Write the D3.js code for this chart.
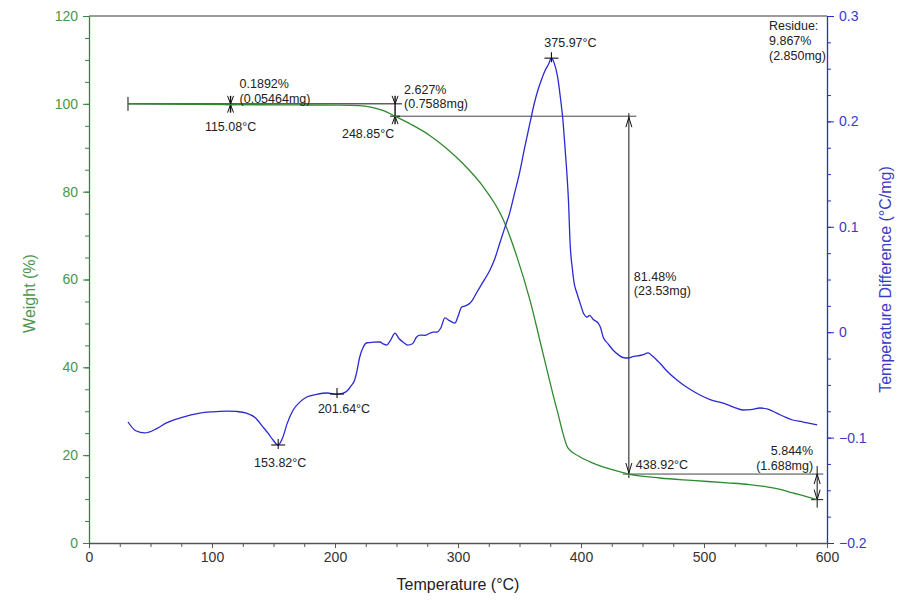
<!DOCTYPE html>
<html><head><meta charset="utf-8">
<script src="https://cdn.jsdelivr.net/npm/d3@7"></script>
<style>
html,body{margin:0;padding:0;background:#fff;}
svg{display:block;font-family:"Liberation Sans",Arial,sans-serif;}
</style></head>
<body><svg id="c" width="910" height="603"></svg>
<script>
// ---- data ----
const tempW  = [31.7, 80, 115.08, 170, 200, 220, 230, 240, 248.85, 262, 277, 290, 304, 320, 337, 348, 358.5, 369, 380.5, 389.5, 398, 409.8, 424, 438.92, 464, 490, 519, 537, 551, 562, 572, 582, 592];
const weight = [100, 99.9, 99.81, 99.75, 99.7, 99.6, 99.2, 98.4, 97.18, 95.3, 92.8, 90.0, 86.4, 81.3, 73.5, 65.1, 55.3, 43.3, 30.3, 21.6, 19.8, 18.2, 16.8, 15.70, 14.8, 14.25, 13.7, 13.3, 12.8, 12.2, 11.4, 10.7, 9.867];

const tempD = [31.7, 38, 45.5, 55, 63, 75, 90, 100, 112, 120, 128, 135, 141.5, 146, 149.6, 153.82, 157.7, 161, 166, 171, 177, 185, 193.5, 201.64, 206, 210.6, 213, 216, 218, 220, 223, 226, 231, 236.6, 239, 242, 245, 248.8, 252, 256, 259, 263, 266, 269, 273, 277, 280, 283, 286, 289.4, 293, 297.5, 300, 303, 306, 309.8, 312, 315, 320, 326, 330, 334, 338, 342, 346, 350, 354, 358.5, 362, 365, 368, 371, 373.5, 375.97, 378, 381, 383, 385.5, 387, 388.5, 390, 391, 393, 394.5, 396.7, 400, 402, 405, 407, 410, 414, 416, 418, 422, 426, 431, 434, 438.5, 442, 446, 450, 454.5, 458, 464, 470, 478, 487, 496.7, 505, 515.5, 524, 531.7, 538, 545.5, 552, 559, 565, 572, 580, 586, 592];
const dta = [-0.0852, -0.0935, -0.0956, -0.0915, -0.0861, -0.0810, -0.0767, -0.0755, -0.0748, -0.0752, -0.0767, -0.0810, -0.0900, -0.0965, -0.1023, -0.1070, -0.0994, -0.0870, -0.0738, -0.0668, -0.0615, -0.0590, -0.0577, -0.0587, -0.0580, -0.0548, -0.0510, -0.0453, -0.0360, -0.0240, -0.0140, -0.0100, -0.0095, -0.0093, -0.0110, -0.0122, -0.0080, -0.0008, -0.0060, -0.0100, -0.0122, -0.0110, -0.0050, -0.0027, -0.0030, -0.0010, 0.0000, 0.0002, 0.0040, 0.0135, 0.0110, 0.0087, 0.0150, 0.0239, 0.0250, 0.0277, 0.0310, 0.0372, 0.0470, 0.0590, 0.0700, 0.0846, 0.0990, 0.1130, 0.1320, 0.1510, 0.1740, 0.1985, 0.2170, 0.2298, 0.2400, 0.2488, 0.2540, 0.2600, 0.2560, 0.2420, 0.2250, 0.1985, 0.1750, 0.1510, 0.1200, 0.0875, 0.0600, 0.0460, 0.0370, 0.0250, 0.0180, 0.0144, 0.0160, 0.0120, 0.0087, 0.0040, -0.0046, -0.0110, -0.0169, -0.0220, -0.0240, -0.0245, -0.0232, -0.0225, -0.0216, -0.0197, -0.0225, -0.0292, -0.0370, -0.0453, -0.0530, -0.0596, -0.0640, -0.0672, -0.0710, -0.0738, -0.0735, -0.0719, -0.0730, -0.0767, -0.0800, -0.0833, -0.0850, -0.0865, -0.0880];

const weightTicks = [0, 20, 40, 60, 80, 100, 120];
const dtaTicks = [-0.2, -0.1, 0, 0.1, 0.2, 0.3];
const tempTicks = [0, 100, 200, 300, 400, 500, 600];

// annotation values
const stepTemps = [115.08, 248.85, 438.92];
const stepLabels = [["0.1892%", "(0.05464mg)"], ["2.627%", "(0.7588mg)"], ["81.48%", "(23.53mg)"], ["5.844%", "(1.688mg)"]];
const peakTemps = [153.82, 201.64, 375.97];
const peakVals = [-0.1070, -0.0587, 0.2600];
const residue = ["Residue:", "9.867%", "(2.850mg)"];
const levels = [100, 97.18, 15.70, 9.867];

// ---- chart ----
const svg = d3.select("#c");
const L = 89, R = 827, T = 16, B = 543;
const x = d3.scaleLinear().domain([0, 600]).range([L, R]);
const yW = d3.scaleLinear().domain([0, 120]).range([B, T]);
const yD = d3.scaleLinear().domain([-0.2, 0.3]).range([B, T]);

const gColor = "#2f8a2f", gText = "#4d944d", bColor = "#2a2ad2", bText = "#3a3ac8";

// top frame line
svg.append("line").attr("x1", L).attr("x2", R).attr("y1", T).attr("y2", T).attr("stroke", "#7a7a7a").attr("stroke-width", 1.5);

function styleAxis(g, col, txt) {
  g.selectAll("path").attr("stroke", col).attr("stroke-width", 1.3);
  g.selectAll("line").attr("stroke", col);
  g.selectAll("text").attr("fill", txt).style("font-size", "14px").style("font-family", "Liberation Sans, Arial, sans-serif");
}

// minor ticks
svg.append("g").attr("transform", `translate(${L},0)`).call(d3.axisLeft(yW).tickValues(d3.range(0, 121, 5)).tickSize(4).tickFormat(""))
  .call(g => { g.select("path").remove(); g.selectAll("line").attr("stroke", gColor); });
svg.append("g").attr("transform", `translate(${R},0)`).call(d3.axisRight(yD).tickValues(d3.range(-8, 13).map(d => d * 0.025)).tickSize(4).tickFormat(""))
  .call(g => { g.select("path").remove(); g.selectAll("line").attr("stroke", bColor); });
svg.append("g").attr("transform", `translate(0,${B})`).call(d3.axisBottom(x).tickValues(d3.range(0, 601, 25)).tickSize(4).tickFormat(""))
  .call(g => { g.select("path").remove(); g.selectAll("line").attr("stroke", "#555"); });

// major axes
svg.append("g").attr("transform", `translate(${L},0)`)
  .call(d3.axisLeft(yW).tickValues(weightTicks).tickSize(6).tickSizeOuter(0).tickPadding(5).tickFormat(d3.format("d")))
  .call(g => styleAxis(g, gColor, gText));
svg.append("g").attr("transform", `translate(${R},0)`)
  .call(d3.axisRight(yD).tickValues(dtaTicks).tickSize(7).tickSizeOuter(0).tickPadding(5).tickFormat(d => d3.format("")(+d.toFixed(1))))
  .call(g => styleAxis(g, bColor, bText));
svg.append("g").attr("transform", `translate(0,${B})`)
  .call(d3.axisBottom(x).tickValues(tempTicks).tickSize(5).tickSizeOuter(0).tickPadding(4))
  .call(g => styleAxis(g, "#555", "#333"));

// axis titles
svg.append("text").attr("x", (L + R) / 2).attr("y", 590).attr("text-anchor", "middle").attr("fill", "#222").style("font-size", "16px").text("Temperature (°C)");
svg.append("text").attr("transform", `translate(35,${(T + B) / 2 + 14}) rotate(-90)`).attr("text-anchor", "middle").attr("fill", gText).style("font-size", "16px").text("Weight (%)");
svg.append("text").attr("transform", `translate(891,${(T + B) / 2}) rotate(-90)`).attr("text-anchor", "middle").attr("fill", bText).style("font-size", "16px").text("Temperature Difference (°C/mg)");

// curves
const lineW = d3.line().x((d, i) => x(tempW[i])).y(d => yW(d)).curve(d3.curveMonotoneX);
const lineD = d3.line().x((d, i) => x(tempD[i])).y(d => yD(d)).curve(d3.curveMonotoneX);

// annotation lines
const ann = svg.append("g").attr("stroke", "#111").attr("stroke-width", 1).attr("fill", "none");
ann.append("line").attr("x1", x(31.7)).attr("x2", x(stepTemps[1]) + 7).attr("y1", yW(levels[0])).attr("y2", yW(levels[0]));
ann.append("line").attr("x1", x(31.7)).attr("x2", x(31.7)).attr("y1", yW(levels[0]) - 7).attr("y2", yW(levels[0]) + 7);
ann.append("line").attr("x1", x(stepTemps[1])).attr("x2", x(445)).attr("y1", yW(levels[1])).attr("y2", yW(levels[1])).attr("stroke", "#444");
ann.append("line").attr("x1", x(stepTemps[2]) - 6).attr("x2", x(597)).attr("y1", yW(levels[2])).attr("y2", yW(levels[2])).attr("stroke", "#444");
ann.append("line").attr("x1", x(stepTemps[2])).attr("x2", x(stepTemps[2])).attr("y1", yW(levels[1]) - 3).attr("y2", yW(levels[2]) + 4);
function arrowUp(px, py) { ann.append("path").attr("d", `M${px - 3},${py + 10}L${px},${py}L${px + 3},${py + 10}`); }
function arrowDown(px, py) { ann.append("path").attr("d", `M${px - 3},${py - 10}L${px},${py}L${px + 3},${py - 10}`); }
arrowUp(x(stepTemps[2]), yW(levels[1]) + 1);
arrowDown(x(stepTemps[2]), yW(levels[2]) - 1);
[[stepTemps[0], levels[0], 99.81], [stepTemps[1], levels[0], levels[1]]].forEach(([t, a, b]) => {
  const px = x(t), ya = yW(a), yb = yW(b);
  ann.append("line").attr("x1", px).attr("x2", px).attr("y1", ya - 8).attr("y2", yb + 8).attr("stroke-width", 1.4);
  ann.append("path").attr("d", `M${px - 3},${ya - 8}L${px},${ya}L${px + 3},${ya - 8}`);
  ann.append("path").attr("d", `M${px - 3},${yb + 8}L${px},${yb}L${px + 3},${yb + 8}`);
  ann.append("line").attr("x1", px - 5).attr("x2", px + 5).attr("y1", yb).attr("y2", yb);
});
{
  const px = x(592), ya = yW(levels[2]), yb = yW(levels[3]);
  ann.append("line").attr("x1", px).attr("x2", px).attr("y1", ya - 8).attr("y2", yb + 8);
  ann.append("path").attr("d", `M${px - 3},${ya + 10}L${px},${ya}L${px + 3},${ya + 10}`);
  ann.append("path").attr("d", `M${px - 3},${yb - 10}L${px},${yb}L${px + 3},${yb - 10}`);
  ann.append("line").attr("x1", px - 6).attr("x2", px + 6).attr("y1", yb).attr("y2", yb);
}

svg.append("path").attr("d", lineW(weight)).attr("fill", "none").attr("stroke", gColor).attr("stroke-width", 1.3);
svg.append("path").attr("d", lineD(dta)).attr("fill", "none").attr("stroke", bColor).attr("stroke-width", 1.3);

// peak crosses
const pk = svg.append("g").attr("stroke", "#111").attr("stroke-width", 1.1);
peakTemps.forEach((t, i) => {
  const px = x(t), py = yD(peakVals[i]);
  pk.append("line").attr("x1", px - 7).attr("x2", px + 7).attr("y1", py).attr("y2", py);
  pk.append("line").attr("x1", px).attr("x2", px).attr("y1", py - 6).attr("y2", py + 4);
});

// annotation text
const tx = svg.append("g").attr("fill", "#222").style("font-size", "12.5px");
function label(px, py, s, anchor) { tx.append("text").attr("x", px).attr("y", py).attr("text-anchor", anchor || "start").text(s); }
label(x(stepTemps[0]) + 9, 88, stepLabels[0][0]);
label(x(stepTemps[0]) + 9, 103, stepLabels[0][1]);
label(x(stepTemps[0]), 131, stepTemps[0].toFixed(2) + "°C", "middle");
label(x(stepTemps[1]) + 9, 94, stepLabels[1][0]);
label(x(stepTemps[1]) + 9, 108, stepLabels[1][1]);
label(x(stepTemps[1]) - 27, 138, stepTemps[1].toFixed(2) + "°C", "middle");
label(x(stepTemps[2]) + 5, 281, stepLabels[2][0]);
label(x(stepTemps[2]) + 5, 295, stepLabels[2][1]);
label(x(stepTemps[2]) + 7, 469, stepTemps[2].toFixed(2) + "°C");
label(x(592) - 4, 455, stepLabels[3][0], "end");
label(x(592) - 4, 470, stepLabels[3][1], "end");
label(x(peakTemps[0]) + 2, 467, peakTemps[0].toFixed(2) + "°C", "middle");
label(x(peakTemps[1]) + 7, 413, peakTemps[1].toFixed(2) + "°C", "middle");
label(x(peakTemps[2]) + 19, 47, peakTemps[2].toFixed(2) + "°C", "middle");
residue.forEach((s, i) => label(769, 30 + i * 15, s));
</script></body></html>
